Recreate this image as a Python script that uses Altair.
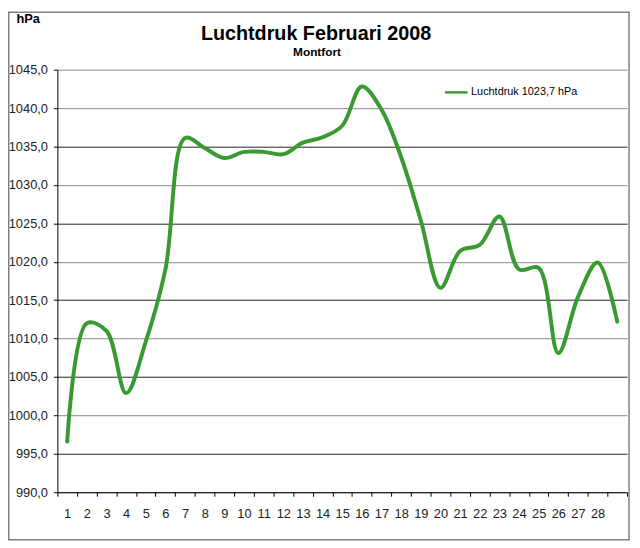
import altair as alt
import pandas as pd

# ---- data ----
days = list(range(1, 30))
pressure = [996.6, 1012.0, 1011.0, 1002.9, 1009.6, 1019.0, 1036.1, 1034.8, 1033.5,
            1034.3, 1034.3, 1034.0, 1035.5, 1036.2, 1037.7, 1042.8, 1039.8, 1033.6,
            1025.4, 1016.6, 1021.4, 1022.2, 1025.9, 1019.0, 1019.2, 1008.1, 1015.4,
            1019.9, 1012.2]
series_name = "Luchtdruk 1023,7 hPa"
y_ticks = [990, 995, 1000, 1005, 1010, 1015, 1020, 1025, 1030, 1035, 1040, 1045]
x_tick_edges = [d - 0.5 for d in days] + [29.5]
title_text = "Luchtdruk Februari 2008"
subtitle_text = "Montfort"
unit_text = "hPa"

FONT = "Liberation Sans"
GREEN = "#3a9a32"

df = pd.DataFrame({"day": days, "p": pressure, "series": [series_name] * len(days)})

W, H = 577, 428

line = alt.Chart(df).mark_line(
    interpolate="catmull-rom", strokeWidth=4, strokeCap="round", strokeJoin="round"
).encode(
    x=alt.X("day:Q",
            scale=alt.Scale(domain=[0.5, 29.5], nice=False, zero=False),
            axis=alt.Axis(values=x_tick_edges, title=None, grid=False,
                          labelExpr="datum.value < 28 ? format(datum.value + 0.5, 'd') : ''",
                          labelOffset=W / 29 / 2, labelFlush=False, labelOverlap=False,
                          tickSize=4, tickColor="black", domainColor="black",
                          labelFont=FONT, labelFontSize=13, labelColor="#222",
                          labelPadding=12)),
    y=alt.Y("p:Q",
            scale=alt.Scale(domain=[990, 1045], nice=False, zero=False),
            axis=alt.Axis(values=y_ticks, grid=True,
                          gridColor={"condition": {"test": "datum.value % 10 == 5 && datum.value < 1040",
                                                   "value": "#222222"},
                                     "value": "#8a8a8a"},
                          labelExpr="replace(format(datum.value, '.1f'), '.', ',')",
                          tickSize=4, tickColor="black", domainColor="black",
                          labelFont=FONT, labelFontSize=13, labelColor="#222",
                          labelPadding=6,
                          title=unit_text, titleAngle=0, titleX=-42, titleY=-48,
                          titleAlign="left", titleBaseline="alphabetic",
                          titleFont=FONT, titleFontSize=13, titleFontWeight="bold",
                          titleColor="black")),
    color=alt.Color("series:N",
                    scale=alt.Scale(range=[GREEN]),
                    legend=alt.Legend(orient="none", legendX=391, legendY=10, padding=0,
                                      title=None, symbolType="stroke", symbolSize=529,
                                      symbolStrokeWidth=2.5, labelOffset=2,
                                      labelFont=FONT, labelFontSize=11, labelColor="black")),
)

title = alt.Chart(pd.DataFrame({"t": [title_text]})).mark_text(
    font=FONT, fontSize=20, fontWeight="bold", align="center", baseline="alphabetic", color="black"
).encode(x=alt.value(262), y=alt.value(-30.3), text="t:N")

subtitle = alt.Chart(pd.DataFrame({"t": [subtitle_text]})).mark_text(
    font=FONT, fontSize=12, fontWeight="bold", align="center", baseline="alphabetic", color="black"
).encode(x=alt.value(263), y=alt.value(-14.3), text="t:N")

frame = alt.Chart(pd.DataFrame({"f": [0]})).mark_rect(
    fill="transparent", stroke="#808080", strokeWidth=1.5
).encode(x=alt.value(-49.25), x2=alt.value(579), y=alt.value(-58.25), y2=alt.value(476))

chart = alt.layer(frame, line, title, subtitle).properties(
    width=W, height=H,
    padding={"left": 50, "top": 59, "right": 5, "bottom": 53},
    autosize=alt.AutoSizeParams(type="none"),
    background="white",
).configure_view(stroke=None)

chart.save("out.html", embed_options={"renderer": "svg", "actions": False})
